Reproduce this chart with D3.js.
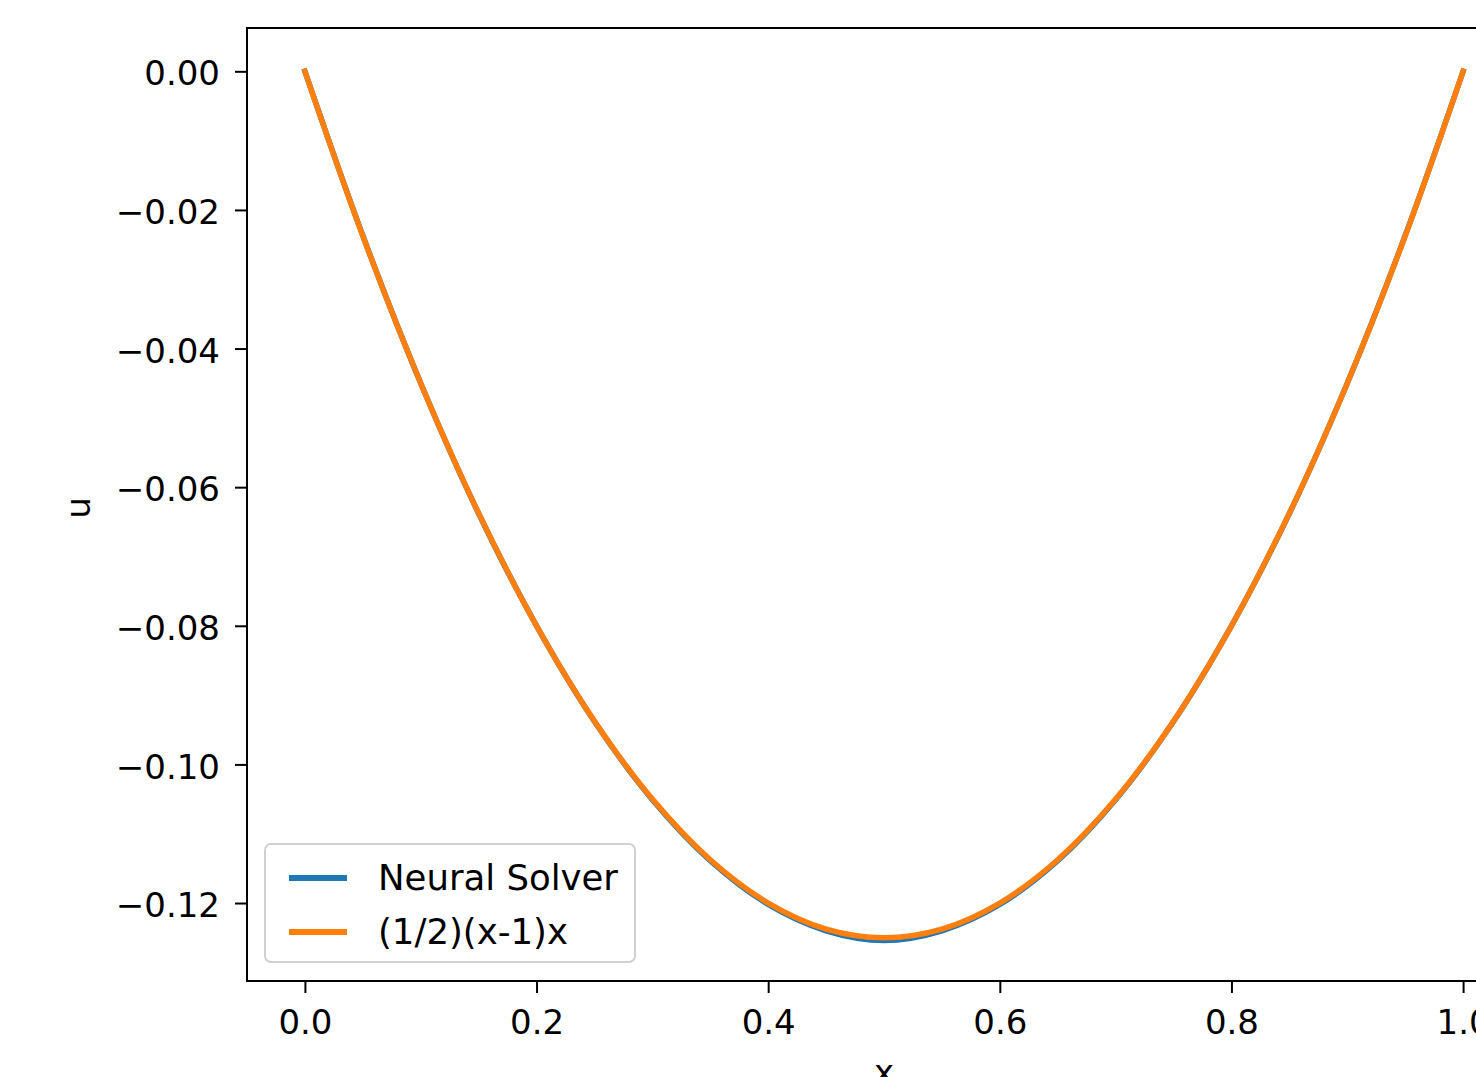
<!DOCTYPE html>
<html>
<head>
<meta charset="utf-8">
<script src="https://d3js.org/d3.v7.min.js"></script>
<style>
  body { margin: 0; background: #fff; overflow: hidden; }
  svg { display: block; font-family: "DejaVu Sans", sans-serif; }
  .tick text { font-family: "DejaVu Sans", sans-serif; font-size: 34px; fill: #000; }
  .tick line { stroke: #000; stroke-width: 2px; }
  .domain { display: none; }
  .line { fill: none; stroke-width: 5.5px; stroke-linejoin: round; stroke-linecap: square; }
</style>
</head>
<body>
<script>
// values
var xs = [0, 0.05, 0.1, 0.15, 0.2, 0.25, 0.3, 0.35, 0.4, 0.45, 0.5,
          0.55, 0.6, 0.65, 0.7, 0.75, 0.8, 0.85, 0.9, 0.95, 1];
var neural = [0, -0.0237, -0.0450, -0.0638, -0.0800, -0.0938, -0.1051, -0.1139, -0.1202, -0.1240, -0.1254,
              -0.1240, -0.1202, -0.1139, -0.1051, -0.0938, -0.0800, -0.0638, -0.0450, -0.0237, 0];
var exact = [0, -0.02375, -0.045, -0.06375, -0.08, -0.09375, -0.105, -0.11375, -0.12, -0.12375, -0.125,
             -0.12375, -0.12, -0.11375, -0.105, -0.09375, -0.08, -0.06375, -0.045, -0.02375, 0];
var xTicks = [0, 0.2, 0.4, 0.6, 0.8, 1.0];
var yTicks = [0, -0.02, -0.04, -0.06, -0.08, -0.10, -0.12];
var seriesNames = ["Neural Solver", "(1/2)(x-1)x"];
var seriesColors = ["#1f77b4", "#ff7f0e"];

var W = 1476, H = 1077;
var plotLeft = 247, plotTop = 28, plotBottom = 981, plotW = 1274;

var svg = d3.select("body").append("svg")
    .attr("width", W).attr("height", H);

var x = d3.scaleLinear().domain([-0.05, 1.05]).range([plotLeft, plotLeft + plotW]);
var y = d3.scaleLinear().domain([-0.13125, 0.00625]).range([plotBottom, plotTop]);

// x axis
svg.append("g")
    .attr("transform", "translate(0," + plotBottom + ")")
    .call(d3.axisBottom(x).tickValues(xTicks).tickFormat(d3.format(".1f"))
      .tickSize(12).tickPadding(17));

// y axis
svg.append("g")
    .attr("transform", "translate(" + plotLeft + ",0)")
    .call(d3.axisLeft(y).tickValues(yTicks).tickFormat(d3.format(".2f"))
      .tickSize(12).tickPadding(15))
  .selectAll("text").attr("dy", "0.4em");

// lines
var line = d3.line()
    .x(function(d, i) { return x(xs[i]); })
    .y(function(d) { return y(d); })
    .curve(d3.curveCatmullRom);

svg.append("path").attr("class", "line").attr("stroke", seriesColors[0]).attr("d", line(neural));
svg.append("path").attr("class", "line").attr("stroke", seriesColors[1]).attr("d", line(exact));

// axes frame
svg.append("rect")
    .attr("x", plotLeft).attr("y", plotTop)
    .attr("width", plotW).attr("height", plotBottom - plotTop)
    .attr("fill", "none").attr("stroke", "#000").attr("stroke-width", 2);

// axis labels
svg.append("text")
    .attr("x", x(0.5)).attr("y", 1084)
    .attr("text-anchor", "middle").attr("font-size", 34)
    .text("x");

svg.append("text")
    .attr("transform", "translate(90,508) rotate(-90)")
    .attr("text-anchor", "middle").attr("font-size", 34)
    .text("u");

// legend
var lg = svg.append("g").attr("transform", "translate(265,844)");
lg.append("rect")
    .attr("width", 370).attr("height", 118).attr("rx", 6)
    .attr("fill", "#fff").attr("fill-opacity", 0.8)
    .attr("stroke", "#d0d0d0").attr("stroke-width", 2);

seriesNames.forEach(function(name, i) {
  var yy = 34 + i * 54;
  lg.append("line")
      .attr("x1", 24).attr("x2", 82).attr("y1", yy).attr("y2", yy)
      .attr("stroke", seriesColors[i]).attr("stroke-width", 6);
  lg.append("text")
      .attr("x", 113).attr("y", yy + 12)
      .attr("font-size", 35.5)
      .text(name);
});
</script>
</body>
</html>
